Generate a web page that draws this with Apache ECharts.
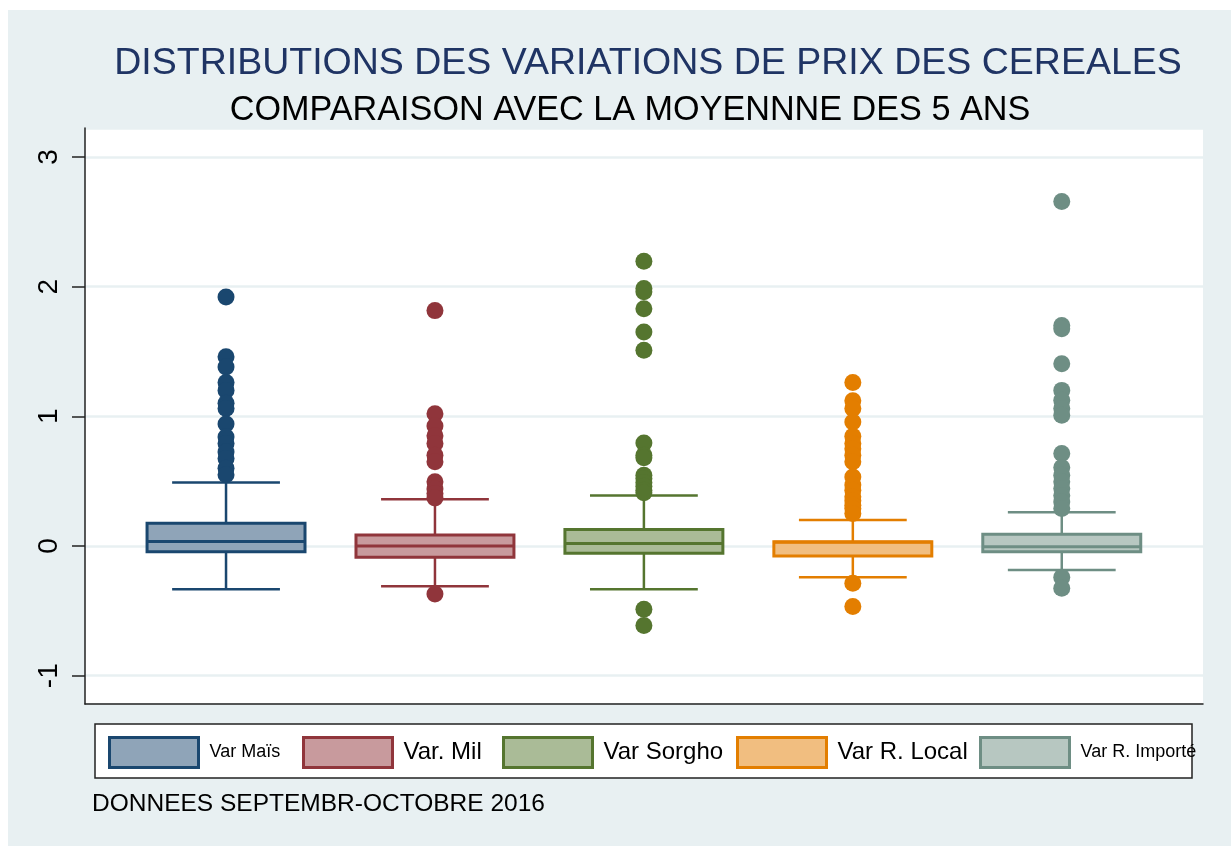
<!DOCTYPE html>
<html>
<head>
<meta charset="utf-8">
<script src="https://cdn.jsdelivr.net/npm/echarts@6/dist/echarts.min.js"></script>
<style>
html, body { margin: 0; padding: 0; background: #fff; }
#chart { width: 1231px; height: 846px; }
</style>
</head>
<body>
<div id="chart"></div>
<script>
// boxplots des variations de prix (style Stata)
var categories = ['Var Maïs', 'Var. Mil', 'Var Sorgho', 'Var R. Local', 'Var R. Importé'];

// moustache basse, Q1, médiane, Q3, moustache haute
var lowWhisker = [-0.333, -0.31, -0.333, -0.24, -0.185];
var q1 = [-0.044, -0.087, -0.056, -0.077, -0.044];
var median = [0.035, 0.0, 0.02, 0.03, -0.005];
var q3 = [0.175, 0.085, 0.128, 0.033, 0.09];
var highWhisker = [0.49, 0.36, 0.39, 0.2, 0.26];

var outMais = [1.92, 1.46, 1.38, 1.26, 1.2, 1.1, 1.06, 0.94, 0.84, 0.79, 0.725, 0.675, 0.6, 0.55];
var outMil = [1.815, 1.02, 0.925, 0.85, 0.79, 0.7, 0.65, 0.495, 0.44, 0.405, 0.37, -0.37];
var outSorgho = [2.195, 1.985, 1.96, 1.83, 1.65, 1.51, 0.795, 0.7, 0.68, 0.546, 0.52, 0.49, 0.46, 0.43, 0.41, -0.487, -0.613];
var outLocal = [1.26, 1.12, 1.06, 0.956, 0.846, 0.79, 0.75, 0.7, 0.65, 0.533, 0.47, 0.43, 0.38, 0.35, 0.315, 0.29, 0.25, -0.287, -0.467];
var outImporte = [2.656, 1.7, 1.675, 1.405, 1.2, 1.123, 1.06, 1.008, 0.713, 0.605, 0.546, 0.495, 0.444, 0.39, 0.34, 0.29, -0.24, -0.325];
var outliers = [outMais, outMil, outSorgho, outLocal, outImporte];

var strokes = ['#1a476f', '#90353b', '#55752f', '#e37e00', '#6e8e84'];
var fills = ['#8fa4b8', '#c89a9d', '#aabb97', '#f1be80', '#b7c7c1'];

var legendLeft = [108, 302, 502, 736, 979];
var legendFont = [18, 24, 24, 24, 18];
var FONT = '"Liberation Sans", Arial, Helvetica, sans-serif';

var chart = echarts.init(document.getElementById('chart'));

function makeBox(k) {
    return function (params, api) {
        var x = api.value(0);
        var unit = api.size([1, 0])[0];
        var bw = unit * 0.378, cw = unit * 0.258;
        var lo = api.coord([x, api.value(1)]);
        var a = api.coord([x, api.value(2)]);
        var md = api.coord([x, api.value(3)]);
        var b = api.coord([x, api.value(4)]);
        var hi = api.coord([x, api.value(5)]);
        var ls = { stroke: strokes[k], lineWidth: 2.5 };
        return {
            type: 'group',
            children: [
                { type: 'line', shape: { x1: lo[0], y1: lo[1], x2: a[0], y2: a[1] }, style: ls },
                { type: 'line', shape: { x1: b[0], y1: b[1], x2: hi[0], y2: hi[1] }, style: ls },
                { type: 'line', shape: { x1: lo[0] - cw, y1: lo[1], x2: lo[0] + cw, y2: lo[1] }, style: ls },
                { type: 'line', shape: { x1: hi[0] - cw, y1: hi[1], x2: hi[0] + cw, y2: hi[1] }, style: ls },
                { type: 'rect', shape: { x: b[0] - bw, y: b[1], width: 2 * bw, height: a[1] - b[1] },
                  style: { fill: fills[k], stroke: strokes[k], lineWidth: 3 } },
                { type: 'line', shape: { x1: md[0] - bw, y1: md[1], x2: md[0] + bw, y2: md[1] },
                  style: { stroke: strokes[k], lineWidth: 3 } }
            ]
        };
    };
}

var series = [];
categories.forEach(function (name, k) {
    series.push({
        name: name,
        type: 'custom',
        renderItem: makeBox(k),
        encode: { x: 0, y: [1, 2, 3, 4, 5] },
        itemStyle: { color: fills[k], borderColor: strokes[k] },
        data: [[k, lowWhisker[k], q1[k], median[k], q3[k], highWhisker[k]]],
        z: 2
    });
    series.push({
        name: name,
        type: 'scatter',
        symbolSize: 17,
        itemStyle: { color: strokes[k], opacity: 1 },
        data: outliers[k].map(function (v) { return [k, v]; }),
        z: 3
    });
});

var legends = categories.map(function (name, k) {
    return {
        left: legendLeft[k],
        top: 736,
        padding: 0,
        itemWidth: 89,
        itemHeight: 30,
        icon: 'rect',
        selectedMode: false,
        data: [{ name: name, itemStyle: { color: fills[k], borderColor: strokes[k], borderWidth: 3 } }],
        textStyle: { fontSize: legendFont[k], color: '#000', fontFamily: FONT, padding: [1, 0, 0, 6] }
    };
});

var option = {
    animation: false,
    backgroundColor: '#ffffff',
    textStyle: { fontFamily: FONT },
    graphic: [
        { type: 'rect', z: -10, shape: { x: 8, y: 10, width: 1223, height: 836 }, style: { fill: '#e8f0f2' } },
        { type: 'rect', z: -5, shape: { x: 95, y: 724, width: 1097, height: 54 },
          style: { fill: '#ffffff', stroke: '#222', lineWidth: 1.5 } },
        { type: 'text', z: 10, x: 648, y: 64,
          style: { text: 'DISTRIBUTIONS DES VARIATIONS DE PRIX DES CEREALES', fill: '#1f3464',
                   font: '37.5px ' + FONT, textAlign: 'center', textVerticalAlign: 'middle' } },
        { type: 'text', z: 10, x: 630, y: 111,
          style: { text: 'COMPARAISON AVEC LA MOYENNNE DES 5 ANS', fill: '#000',
                   font: '34.2px ' + FONT, textAlign: 'center', textVerticalAlign: 'middle' } },
        { type: 'text', z: 10, x: 92, y: 804,
          style: { text: 'DONNEES SEPTEMBR-OCTOBRE 2016', fill: '#000',
                   font: '24.5px ' + FONT, textAlign: 'left', textVerticalAlign: 'middle' } }
    ],
    legend: legends,
    grid: {
        left: 85,
        top: 128,
        right: 28,
        bottom: 142,
        show: true,
        backgroundColor: '#ffffff',
        borderWidth: 0
    },
    xAxis: {
        type: 'value',
        min: -0.675,
        max: 4.676,
        axisLine: { show: true, onZero: false, lineStyle: { color: '#222', width: 1.5 } },
        axisTick: { show: false },
        axisLabel: { show: false },
        splitLine: { show: false }
    },
    yAxis: {
        type: 'value',
        min: -1.218,
        max: 3.223,
        splitNumber: 4,
        axisLine: { show: true, onZero: false, lineStyle: { color: '#222', width: 1.5 } },
        axisTick: { show: true, length: 13, lineStyle: { color: '#222', width: 1.5 } },
        axisLabel: {
            rotate: 90,
            margin: 22,
            fontSize: 28,
            color: '#000',
            fontFamily: FONT,
            showMinLabel: false,
            showMaxLabel: false
        },
        splitLine: { show: true, lineStyle: { color: '#e8f0f2', width: 2.5 } }
    },
    series: series
};

chart.setOption(option);
</script>
</body>
</html>
